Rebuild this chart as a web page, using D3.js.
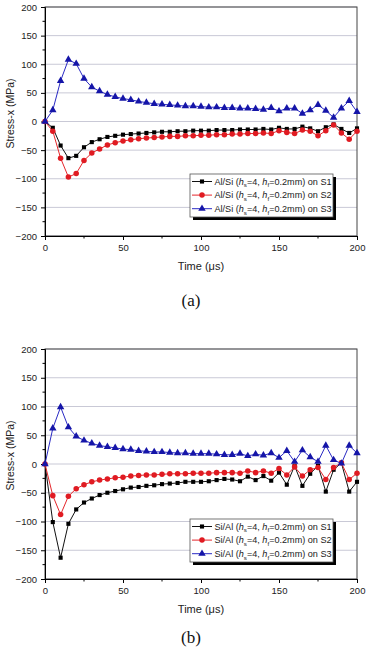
<!DOCTYPE html>
<html>
<head>
<meta charset="utf-8">
<script src="https://cdnjs.cloudflare.com/ajax/libs/d3/7.8.5/d3.min.js"></script>
<style>
  body { margin: 0; background: #fff; }
  svg text { font-family: "Liberation Sans", Arial, sans-serif; fill: #222; }
  svg text.caption { font-family: "Liberation Serif", "Times New Roman", serif; fill: #111; }
</style>
</head>
<body>
<svg id="chart" width="370" height="648"></svg>
<script>
// time axis (us), one point every 5 us
var times = [0,5,10,15,20,25,30,35,40,45,50,55,60,65,70,75,80,85,90,95,100,
             105,110,115,120,125,130,135,140,145,150,155,160,165,170,175,180,185,190,195,200]
var xTicks = [0,50,100,150,200]
var xMinor = [25,75,125,175]
var yTicks = [-200,-150,-100,-50,0,50,100,150,200]
var yMinor = [-175,-125,-75,-25,25,75,125,175]

// (a) Al/Si
var alSiS1 = [0,-11,-42,-64,-60,-45,-36,-31,-27,-25,-23,-22,-21,-20,-19,-18,-18,-17,-17,-16,-16,
              -16,-15,-15,-15,-14,-14,-14,-13,-14,-11,-13,-13,-9,-12,-17,-10,-5,-13,-20,-12]
var alSiS2 = [0,-17,-64,-97,-91,-68,-55,-48,-41,-37,-34,-32,-30,-29,-28,-27,-26,-26,-25,-25,-24,
              -24,-23,-23,-22,-22,-21,-21,-20,-21,-16,-19,-21,-15,-17,-25,-16,-6,-20,-31,-17]
var alSiS3 = [0,20,71,108,101,75,60,53,47,43,40,38,35,33,31,30,29,28,27,27,26,
              25,25,24,24,23,23,22,21,24,18,23,23,14,20,29,19,7,23,36,17]

// (b) Si/Al
var siAlS1 = [0,-101,-163,-104,-79,-67,-60,-54,-50,-47,-44,-41,-40,-38,-37,-35,-34,-33,-31,-31,-31,
              -30,-28,-26,-27,-30,-22,-28,-21,-29,-15,-36,-3,-38,-17,-3,-48,-10,2,-48,-31]
var siAlS2 = [0,-55,-88,-56,-43,-36,-31,-28,-26,-24,-23,-21,-20,-19,-19,-18,-17,-17,-17,-16,-16,
              -16,-15,-15,-15,-16,-12,-15,-12,-16,-8,-19,-5,-21,-10,-6,-27,-6,2,-27,-16]
var siAlS3 = [0,62,99,64,48,41,36,32,30,28,26,25,23,22,21,21,20,19,19,18,18,
              18,17,16,16,18,14,17,15,19,11,23,4,24,12,4,32,7,1,32,19]

var surfaces = ["S1","S2","S3"]

var styles = [
  {line: "#111", fill: "#000", symbol: d3.symbolSquare, size: 17},
  {line: "#e5262b", fill: "#e01b22", symbol: d3.symbolCircle, size: 24},
  {line: "#2a2ac4", fill: "#1515a8", symbol: d3.symbolTriangle, size: 24}
]

var svg = d3.select("#chart")
svg.append("rect").attr("width", 370).attr("height", 648).attr("fill", "#fff")

function drawPanel(opt) {
  var left = 45, right = 357
  var x = d3.scaleLinear().domain([0, 200]).range([left, right])
  var y = d3.scaleLinear().domain([-200, 200]).range([opt.bottom, opt.top])

  var g = svg.append("g")

  // horizontal grid
  g.selectAll(".grid").data(yTicks).enter().append("line")
    .attr("x1", left).attr("x2", right)
    .attr("y1", function(d) { return y(d) }).attr("y2", function(d) { return y(d) })
    .attr("stroke", "#c9c9d6").attr("stroke-width", 1)

  // frame
  g.append("rect")
    .attr("x", left).attr("y", opt.top)
    .attr("width", right - left).attr("height", opt.bottom - opt.top)
    .attr("fill", "none").attr("stroke", "#444").attr("stroke-width", 1)

  // axes
  var ax = g.append("g").attr("transform", "translate(0," + opt.bottom + ")")
    .call(d3.axisBottom(x).tickValues(xTicks).tickSize(4).tickPadding(4).tickFormat(d3.format("d")))
  ax.append("g").selectAll("line").data(xMinor).enter().append("line")
    .attr("x1", function(d) { return x(d) }).attr("x2", function(d) { return x(d) })
    .attr("y1", 0).attr("y2", 2.5).attr("stroke", "#000")

  var ay = g.append("g").attr("transform", "translate(" + left + ",0)")
    .call(d3.axisLeft(y).tickValues(yTicks).tickSize(4).tickPadding(4).tickFormat(d3.format("d")))
  ay.append("g").selectAll("line").data(yMinor).enter().append("line")
    .attr("y1", function(d) { return y(d) }).attr("y2", function(d) { return y(d) })
    .attr("x1", 0).attr("x2", -2.5).attr("stroke", "#000")

  g.selectAll(".domain").attr("stroke", "#000")
  g.selectAll(".tick text").attr("font-size", "9.5px").attr("fill", "#222")

  // axis titles
  g.append("text")
    .attr("transform", "translate(14," + (opt.top + 106.5) + ") rotate(-90)")
    .attr("text-anchor", "middle").attr("font-size", "10.5px")
    .text("Stress-x (MPa)")
  g.append("text")
    .attr("x", 201).attr("y", opt.bottom + 34)
    .attr("text-anchor", "middle").attr("font-size", "11px")
    .text("Time (\u03bcs)")

  // series
  opt.series.forEach(function(vals, i) {
    var st = styles[i]
    var pts = times.map(function(t, k) { return [t, vals[k]] })
    g.append("path").datum(pts)
      .attr("fill", "none").attr("stroke", st.line).attr("stroke-width", 1)
      .attr("d", d3.line().x(function(d) { return x(d[0]) }).y(function(d) { return y(d[1]) }))
    g.append("g").selectAll("path").data(pts).enter().append("path")
      .attr("transform", function(d) { return "translate(" + x(d[0]) + "," + y(d[1]) + ")" })
      .attr("d", d3.symbol().type(st.symbol).size(st.size))
      .attr("fill", st.fill)
  })

  // legend
  var lx = 190, ly = opt.legendTop, lw = 143, lh = 43
  var lg = g.append("g")
  lg.append("rect").attr("x", lx + 3).attr("y", ly + 3).attr("width", lw).attr("height", lh).attr("fill", "#000")
  lg.append("rect").attr("x", lx).attr("y", ly).attr("width", lw).attr("height", lh)
    .attr("fill", "#fff").attr("stroke", "#555").attr("stroke-width", 0.8)

  surfaces.forEach(function(s, i) {
    var st = styles[i]
    var ry = ly + 7.5 + i * 13.6
    lg.append("line").attr("x1", lx + 2).attr("x2", lx + 22).attr("y1", ry).attr("y2", ry)
      .attr("stroke", st.line).attr("stroke-width", 1)
    lg.append("path").attr("transform", "translate(" + (lx + 12) + "," + ry + ")")
      .attr("d", d3.symbol().type(st.symbol).size(st.size)).attr("fill", st.fill)
    var t = lg.append("text").attr("x", lx + 24.5).attr("y", ry + 3.3).attr("font-size", "9.1px")
    t.append("tspan").text(opt.pair + " (")
    t.append("tspan").attr("font-style", "italic").text("h")
    t.append("tspan").attr("font-size", "6.2px").attr("dy", 2.5).text("s")
    t.append("tspan").attr("dy", -2.5).text("=4, ")
    t.append("tspan").attr("font-style", "italic").text("h")
    t.append("tspan").attr("font-size", "6.2px").attr("dy", 2.5).text("f")
    t.append("tspan").attr("dy", -2.5).text("=0.2mm) on " + s)
  })

  // caption
  svg.append("text").attr("class", "caption")
    .attr("x", 191).attr("y", opt.captionY)
    .attr("text-anchor", "middle").attr("font-size", "17px")
    .text(opt.caption)
}

drawPanel({top: 7, bottom: 236, legendTop: 174, pair: "Al/Si", caption: "(a)", captionY: 306,
           series: [alSiS1, alSiS2, alSiS3]})
drawPanel({top: 349, bottom: 579, legendTop: 519, pair: "Si/Al", caption: "(b)", captionY: 643,
           series: [siAlS1, siAlS2, siAlS3]})
</script>
</body>
</html>
